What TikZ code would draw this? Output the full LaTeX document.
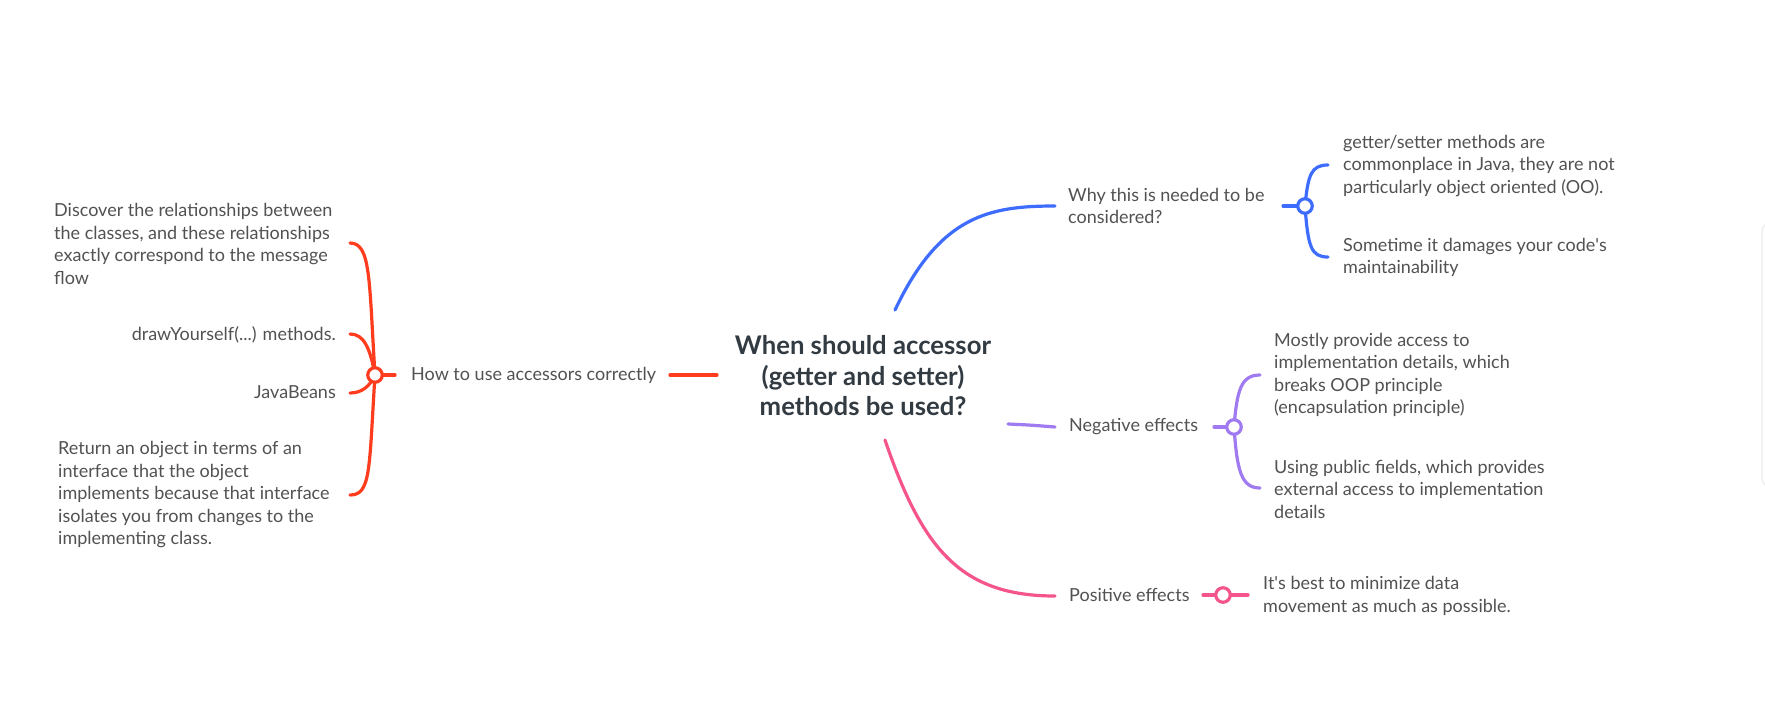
\documentclass[tikz,border=0pt]{standalone}
\usepackage{fontspec}
\setmainfont{Lato}
\definecolor{cred}{RGB}{255,61,30}
\definecolor{cblue}{RGB}{61,108,255}
\definecolor{cpurple}{RGB}{160,122,240}
\definecolor{cpink}{RGB}{245,85,140}
\definecolor{ctext}{RGB}{82,82,82}
\definecolor{cmain}{RGB}{50,58,66}
\definecolor{cedge}{RGB}{236,236,236}
\newcommand{\sq}{\XeTeXglyph\XeTeXcharglyph"0027\relax}
\tikzset{
  topic/.style={inner sep=0pt, text=ctext, font=\fontsize{18}{22.5}\selectfont, align=left},
  topicr/.style={inner sep=0pt, text=ctext, font=\fontsize{18}{22.5}\selectfont, align=right},
  central/.style={inner sep=0pt, text=cmain, font=\bfseries\fontsize{25.7}{30.5}\selectfont, align=center},
  hub/.style={circle, draw=#1, fill=white, line width=3.2pt, minimum size=14.5pt, inner sep=0pt},
  branch/.style={draw=#1, line width=3.2pt, line cap=round},
}
\begin{document}
\begin{tikzpicture}[x=1pt,y=-1pt]
\useasboundingbox (0,0) rectangle (1765,716);
\fill[white] (0,0) rectangle (1765,716);
\draw[cedge, line width=1.2pt, rounded corners=10pt] (1800,222) -- (1762,222) -- (1762,488) -- (1800,488);

% central topic
\node[central] (c) at (863,376) {When should accessor\\(getter and setter)\\methods be used?};
\coordinate (cL) at (717,375);
\coordinate (cT) at (895,310);
\coordinate (cR) at (1008,424);
\coordinate (cB) at (885,440);

% ---------- red (left) ----------
\node[topic, anchor=west] (how) at (411,375) {How to use accessors correctly};
\draw[branch=cred] (cL) -- (670,375) coordinate (howR);
\coordinate (redhub) at (375,375);
\node[topic, anchor=west] (disc) at (54,244) {Discover the relationships between\\the classes, and these relationships\\exactly correspond to the message\\flow};
\node[topicr, anchor=east] (draw) at (336,335) {drawYourself(...) methods.};
\node[topicr, anchor=east] (java) at (336,392) {JavaBeans};
\node[topic, anchor=west] (ret) at (58,495) {Return an object in terms of an\\interface that the object\\implements because that interface\\isolates you from changes to the\\implementing class.};
\coordinate (e1) at (350,243);
\coordinate (e2) at (350,334);
\coordinate (e3) at (350,393);
\coordinate (e4) at (350,495);
\draw[branch=cred] (redhub) .. controls (369,280) and (371,243) .. (e1);
\draw[branch=cred] (redhub) .. controls (370,348) and (364,334) .. (e2);
\draw[branch=cred] (redhub) .. controls (370,386) and (362,393) .. (e3);
\draw[branch=cred] (redhub) .. controls (369,470) and (371,495) .. (e4);
\draw[branch=cred] (redhub) -- (395,375);
\node[hub=cred] (rh) at (redhub) {};

% ---------- blue ----------
\node[topic, anchor=west] (why) at (1068,206) {Why this is needed to be\\considered?};
\draw[branch=cblue] (cT) .. controls (940,215) and (990,206) .. (1055,206);
\coordinate (bluehub) at (1305,206);
\node[topic, anchor=west] (get) at (1343,166) {getter/setter methods are\\commonplace in Java, they are not\\particularly object oriented (OO).};
\node[topic, anchor=west] (some) at (1343,257.5) {Sometime it damages your code\sq s\\maintainability};
\draw[branch=cblue] (bluehub) .. controls (1308,175) and (1311,165) .. (1328,165);
\draw[branch=cblue] (bluehub) .. controls (1308,247) and (1311,257) .. (1328,257);
\draw[branch=cblue] (1283,206) -- (bluehub);
\node[hub=cblue] (bh) at (bluehub) {};

% ---------- purple ----------
\node[topic, anchor=west] (neg) at (1069,427) {Negative effects};
\draw[branch=cpurple] (cR) .. controls (1030,425) .. (1055,427);
\coordinate (purphub) at (1234,427);
\node[topic, anchor=west] (most) at (1274,375) {Mostly provide access to\\implementation details, which\\breaks OOP principle\\(encapsulation principle)};
\node[topic, anchor=west] (pub) at (1274,489) {Using public fields, which provides\\external access to implementation\\details};
\draw[branch=cpurple] (purphub) .. controls (1237,390) and (1241,375) .. (1260,375);
\draw[branch=cpurple] (purphub) .. controls (1237,470) and (1241,488) .. (1260,488);
\draw[branch=cpurple] (1214,427) -- (purphub);
\node[hub=cpurple] (ph) at (purphub) {};

% ---------- pink ----------
\node[topic, anchor=west] (pos) at (1069,595) {Positive effects};
\draw[branch=cpink] (cB) .. controls (922,548) and (960,596) .. (1055,596);
\coordinate (pinkhub) at (1223,595);
\node[topic, anchor=west] (best) at (1263,596) {It\sq s best to minimize data\\movement as much as possible.};
\draw[branch=cpink] (1203,595) -- (1248,595);
\node[hub=cpink] (kh) at (pinkhub) {};
\end{tikzpicture}
\end{document}
